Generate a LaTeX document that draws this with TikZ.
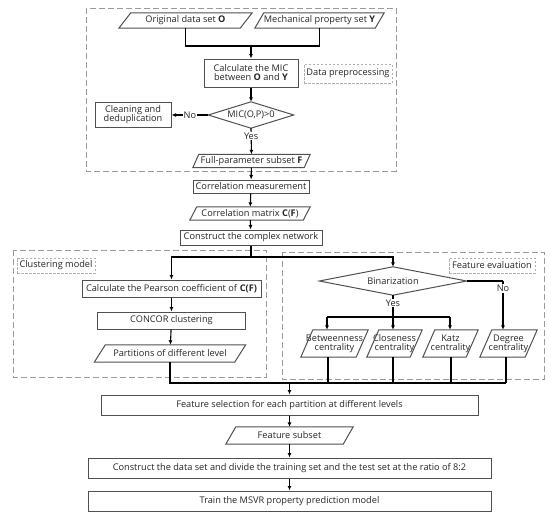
\documentclass[tikz,border=0pt]{standalone}
\usepackage{fontspec}
\setmainfont{Open Sans}
\usetikzlibrary{arrows.meta,calc}
\definecolor{boxc}{HTML}{505050}
\definecolor{dashc}{HTML}{9A9A9A}
\definecolor{lblc}{HTML}{B0B0B0}
\begin{document}
\begin{tikzpicture}[x=1pt,y=-1pt,
  every node/.style={font=\fontsize{9.2}{10.5}\selectfont, inner sep=0pt, text=black!85},
  box/.style={draw=boxc, line width=1pt, align=center},
  para/.style={align=center},
  dia/.style={align=center},
  lbl/.style={draw=lblc, dashed, dash pattern=on 2.5pt off 1.5pt, line width=0.7pt},
  shapeline/.style={draw=boxc, line width=1pt},
  dashbox/.style={draw=dashc, line width=0.9pt, dash pattern=on 6pt off 3pt},
  ln/.style={draw=black, line width=1.1pt},
  arr/.style={ln, -{Latex[length=4.5pt,width=4pt]}},
  tag/.style={fill=white, inner sep=1pt}]
\useasboundingbox (0,0) rectangle (550,512);

% containers
\draw[dashbox] (86,8) rectangle (396,171);
\draw[dashbox] (13,250) rectangle (266,377);
\draw[dashbox] (282,252) rectangle (544,379);

% nodes
\node[para, minimum width=133, minimum height=15] (orig) at (185.5,20.5) {Original data set \textbf{O}};
\node[para, minimum width=129, minimum height=15] (mech) at (319.5,20.5) {Mechanical property set \textbf{Y}};
\node[box, minimum width=94, minimum height=28] (mic) at (251,73) {Calculate the MIC\\[-1.5pt]between \textbf{O} and \textbf{Y}};
\node[lbl, minimum width=88, minimum height=19] (dpl) at (348,73.5) {Data preprocessing};
\node[dia, minimum width=85, minimum height=26] (d1) at (251,115) {MIC(O,P)>0};
\node[box, minimum width=76, minimum height=25] (clean) at (133,115) {Cleaning and\\[-1.5pt]deduplication};
\node[para, minimum width=117, minimum height=13] (full) at (251.5,161) {Full-parameter subset \textbf{F}};
\node[box, minimum width=116, minimum height=13] (cmeas) at (251,186.5) {Correlation measurement};
\node[para, minimum width=120, minimum height=13] (cmat) at (250,213.5) {Correlation matrix \textbf{C}(\textbf{F})};
\node[box, minimum width=142, minimum height=15] (net) at (251,237.5) {Construct the complex network};

\node[lbl, minimum width=78, minimum height=15] (cml) at (56,265.5) {Clustering model};
\node[box, minimum width=179, minimum height=17] (pear) at (171.5,288.5) {Calculate the Pearson coefficient of \textbf{C(F)}};
\node[box, minimum width=148, minimum height=17] (conc) at (171.5,320.5) {CONCOR clustering};
\node[para, minimum width=151, minimum height=17] (part) at (170,353.5) {Partitions of different level};

\node[lbl, minimum width=86, minimum height=15] (fel) at (492,265.5) {Feature evaluation};
\node[dia, minimum width=147, minimum height=28] (d2) at (393,281) {Binarization};
\node[para, minimum width=67, minimum height=27] (betw) at (334.5,343.5) {Betweenness\\[-1.5pt]centrality};
\node[para, minimum width=55, minimum height=27] (clos) at (394.5,343.5) {Closeness\\[-1.5pt]centrality};
\node[para, minimum width=55, minimum height=27] (katz) at (450.5,343.5) {Katz\\[-1.5pt]centrality};
\node[para, minimum width=57, minimum height=27] (degr) at (508.5,343.5) {Degree\\[-1.5pt]centrality};

\node[box, minimum width=377, minimum height=20] (fsel) at (289.5,405) {Feature selection for each partition at different levels};
\node[para, minimum width=127, minimum height=17] (fsub) at (289.5,435.5) {Feature subset};
\node[box, minimum width=403, minimum height=20] (cons) at (289.5,468) {Construct the data set and divide the training set and the test set at the ratio of 8:2};
\node[box, minimum width=403, minimum height=20] (train) at (289.5,501) {Train the MSVR property prediction model};

% parallelogram outlines
\foreach \n/\s in {orig/12, mech/9, full/6, cmat/7, part/11, betw/12, clos/12, katz/12, degr/12, fsub/10}
  \draw[shapeline] ($(\n.north west)+(\s,0)$) -- (\n.north east) -- ($(\n.south east)-(\s,0)$) -- (\n.south west) -- cycle;
% diamond outlines
\foreach \n in {d1,d2}
  \draw[shapeline] (\n.west) -- (\n.north) -- (\n.east) -- (\n.south) -- cycle;

% connectors
\coordinate (j1) at (251,46);
\draw[ln] (orig.south) |- (j1) -| (mech.south);
\draw[arr] (j1) -- (mic.north);
\draw[arr] (mic) -- (d1);
\draw[arr] (d1.west) -- (clean.east) node[midway, tag] {No};
\draw[arr] (d1.south) -- (full.north) node[pos=0.3, tag] {Yes};
\draw[arr] (full) -- (cmeas);
\draw[arr] (cmeas) -- (cmat);
\draw[arr] (cmat) -- (net);

\coordinate (j2) at (251,257);
\draw[ln] (net.south) -- (j2);
\draw[arr] (j2) -| (pear.north);
\draw[arr] (j2) -| (d2.north);
\draw[arr] (pear) -- (conc);
\draw[arr] (conc) -- (part);

\coordinate (nx) at (503,281);
\draw[ln] (d2.east) -- (nx);
\draw[arr] (nx) -- (nx |- degr.north) node[pos=0.15, tag] {No};
\coordinate (j3) at (393,317);
\coordinate (b1) at (327,317);
\coordinate (b3) at (450,317);
\draw[ln] (d2.south) -- (j3) node[pos=0.36, tag] {Yes};
\draw[ln] (b1) -- (b3);
\draw[arr] (b1) -- (b1 |- betw.north);
\draw[arr] (j3) -- (j3 |- clos.north);
\draw[arr] (b3) -- (b3 |- katz.north);

\coordinate (m) at (289.5,383);
\coordinate (c1) at (328,383);
\coordinate (c2) at (393,383);
\coordinate (c3) at (451,383);
\coordinate (c4) at (506,383);
\draw[ln] (part.south) -- (part.south |- m) -- (c4);
\draw[ln] (c1 |- betw.south) -- (c1);
\draw[ln] (c2 |- clos.south) -- (c2);
\draw[ln] (c3 |- katz.south) -- (c3);
\draw[ln] (c4 |- degr.south) -- (c4);
\draw[arr] (m) -- (fsel.north);
\draw[arr] (fsel) -- (fsub);
\draw[arr] (fsub) -- (cons);
\draw[arr] (cons) -- (train);
\end{tikzpicture}
\end{document}
